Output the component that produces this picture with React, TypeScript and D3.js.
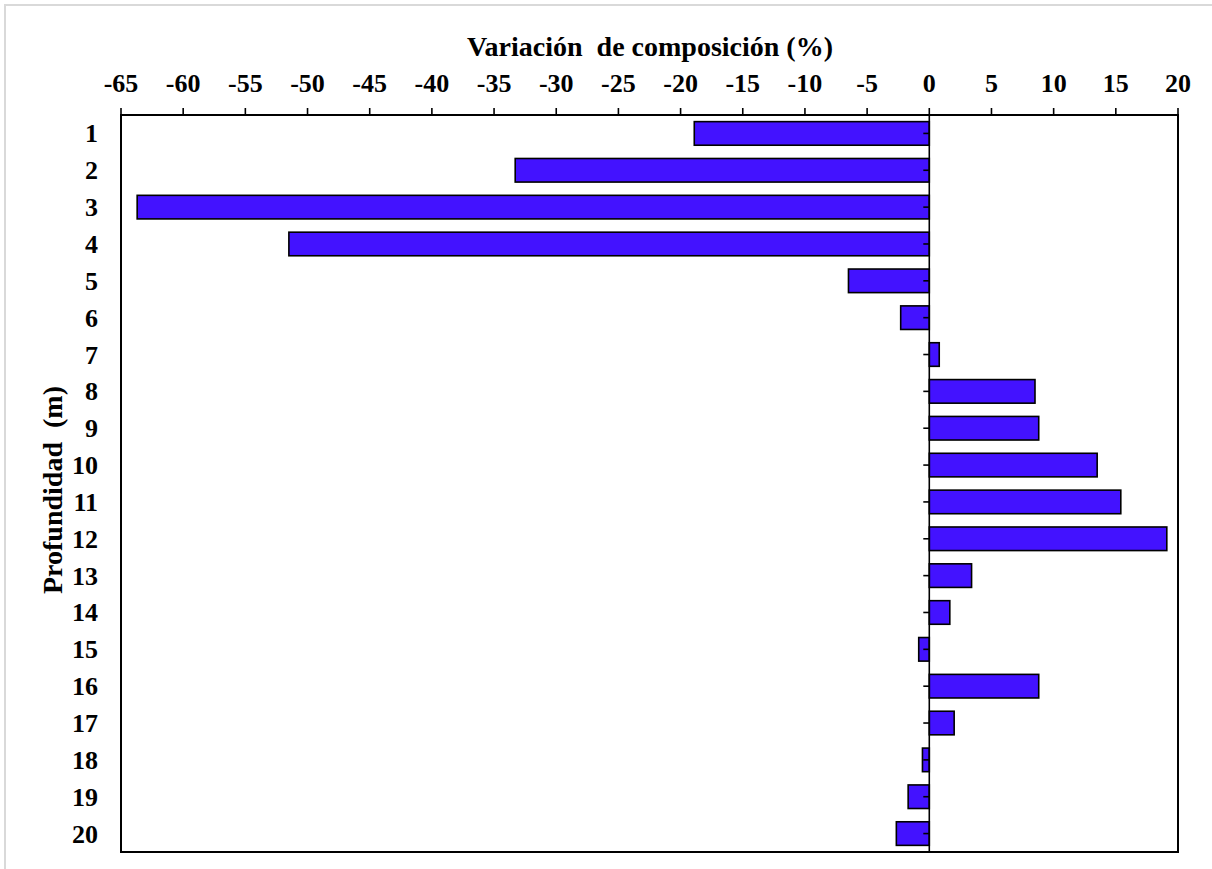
import React from "react";
import * as d3 from "d3";

const depths: string[] = ["1","2","3","4","5","6","7","8","9","10","11","12","13","14","15","16","17","18","19","20"];
const variation: number[] = [-18.9, -33.3, -63.7, -51.5, -6.5, -2.3, 0.8, 8.5, 8.8, 13.5, 15.4, 19.1, 3.4, 1.65, -0.85, 8.8, 2.0, -0.55, -1.7, -2.65];
const xTicks: number[] = [-65, -60, -55, -50, -45, -40, -35, -30, -25, -20, -15, -10, -5, 0, 5, 10, 15, 20];
const xTitle = "Variación  de composición (%)";
const yTitle = "Profundidad  (m)";

export default function App() {
  const W = 1212, H = 869;
  const left = 121, right = 1178, top = 115, bottom = 852;
  const x = d3.scaleLinear().domain([-65, 20]).range([left, right]);
  const y = d3.scaleBand<string>().domain(depths).range([top, bottom]).paddingInner(0.36).paddingOuter(0.18);
  const font = "'Liberation Serif', 'Times New Roman', serif";
  const x0 = x(0);
  return (
    <svg width={W} height={H} style={{ position: "absolute", left: 0, top: 0, background: "#fff" }} fontFamily={font}>
      <rect x={5} y={5} width={1230} height={900} fill="none" stroke="#d9d9d9" strokeWidth={2} />
      {/* bars */}
      {variation.map((v, i) => (
        <rect key={i} x={Math.min(x(v), x0)} y={y(depths[i])!} width={Math.abs(x(v) - x0)} height={y.bandwidth()}
          fill="#4312FF" stroke="#000" strokeWidth={1.6} />
      ))}
      {/* plot frame */}
      <rect x={left} y={top} width={right - left} height={bottom - top} fill="none" stroke="#000" strokeWidth={2} />
      {/* zero axis */}
      <line x1={x0} x2={x0} y1={top} y2={bottom} stroke="#000" strokeWidth={1.6} />
      {depths.map((d) => {
        const cy = y(d)! + y.bandwidth() / 2;
        return <line key={"yt" + d} x1={x0 - 6} x2={x0} y1={cy} y2={cy} stroke="#000" strokeWidth={1.6} />;
      })}
      {/* top ticks */}
      {xTicks.map((t) => (
        <g key={"xt" + t}>
          <line x1={x(t)} x2={x(t)} y1={top - 7} y2={top} stroke="#000" strokeWidth={1.6} />
          <text x={x(t)} y={92} textAnchor="middle" fontSize={26} fontWeight="bold">{t}</text>
        </g>
      ))}
      {/* y labels */}
      {depths.map((d) => (
        <text key={"yl" + d} x={98} y={y(d)! + y.bandwidth() / 2 + 9} textAnchor="end" fontSize={26} fontWeight="bold">{d}</text>
      ))}
      <text x={650} y={56} textAnchor="middle" fontSize={28} fontWeight="bold" style={{ whiteSpace: "pre" }}>{xTitle}</text>
      <text transform={`translate(62, 490) rotate(-90)`} textAnchor="middle" fontSize={28} fontWeight="bold" style={{ whiteSpace: "pre" }}>{yTitle}</text>
    </svg>
  );
}
